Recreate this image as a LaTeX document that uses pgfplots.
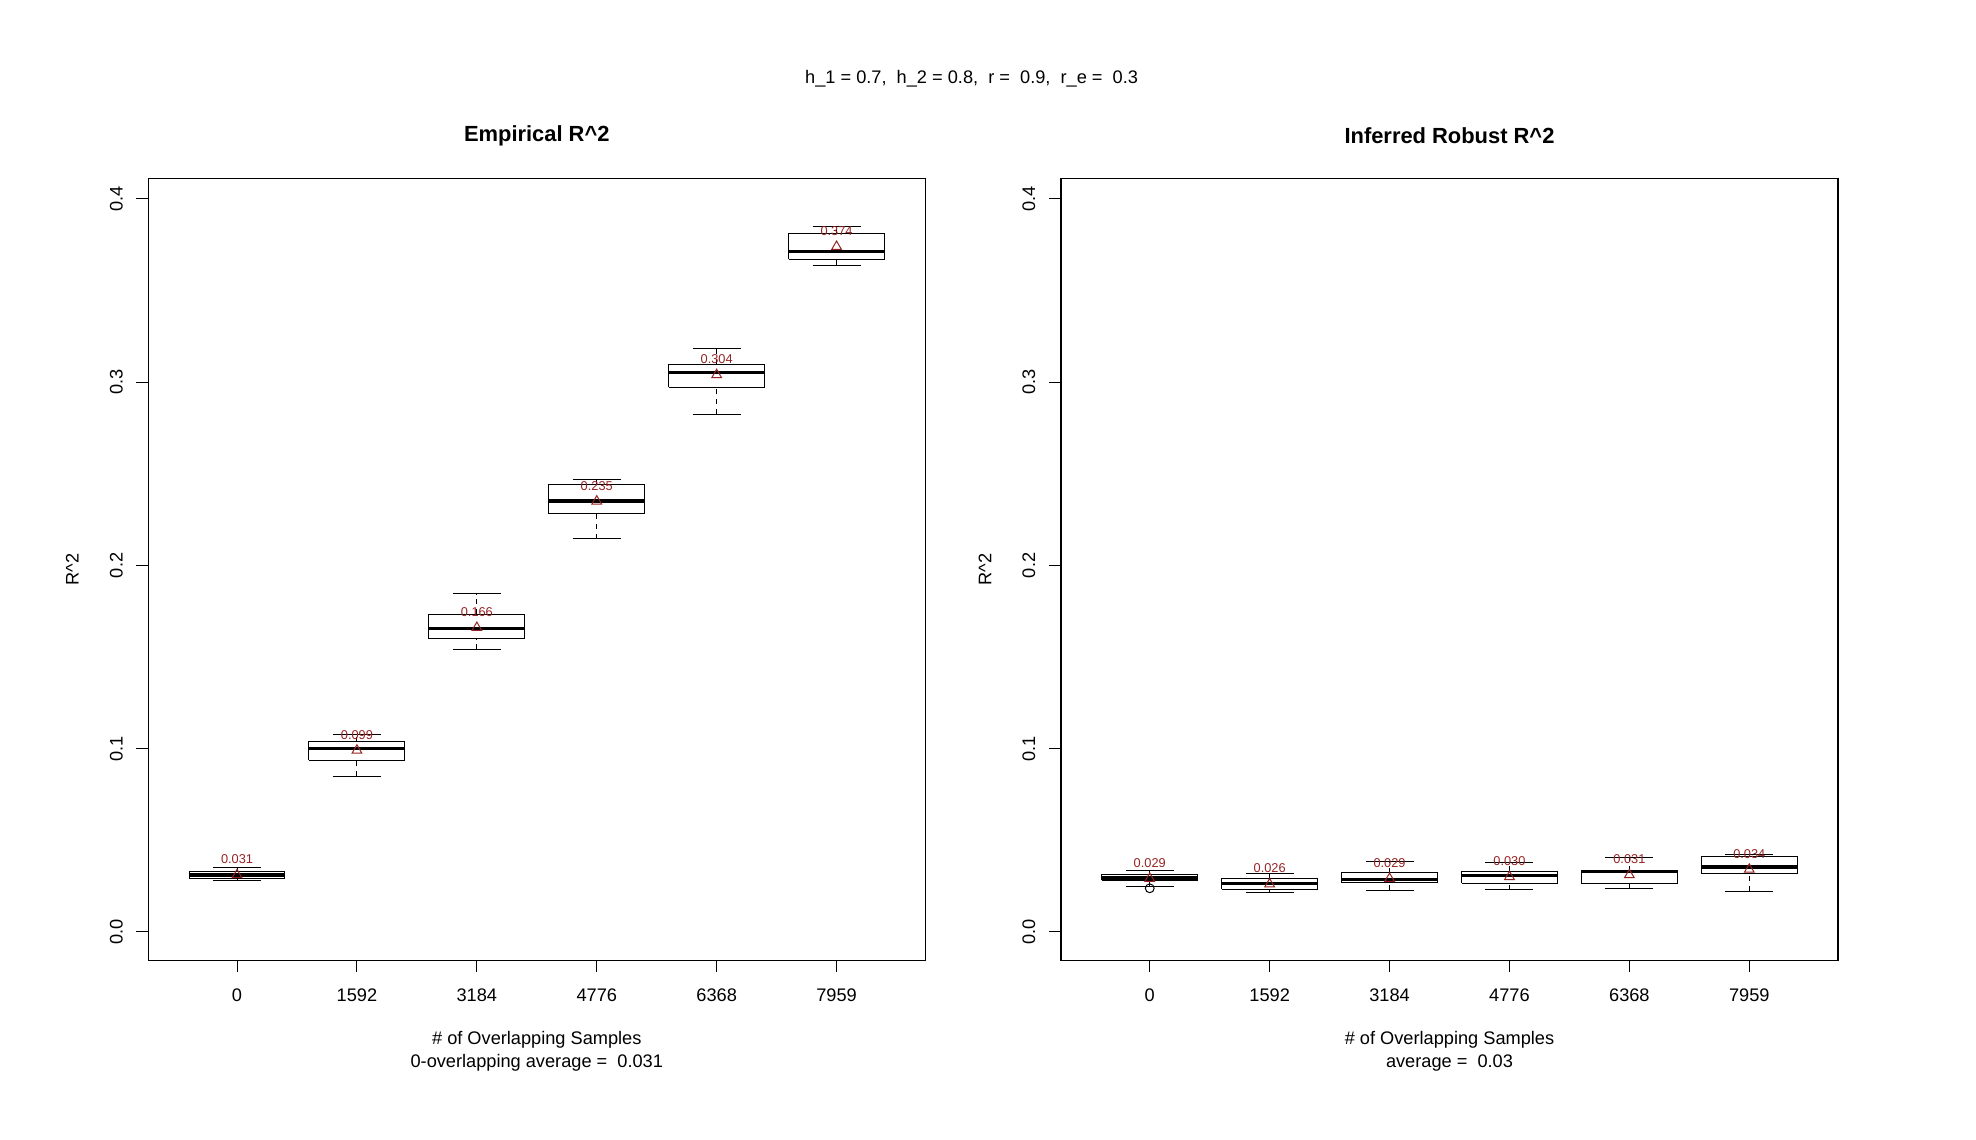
\documentclass[border=0pt]{standalone}
\usepackage{pgfplots}
\pgfplotsset{compat=1.18}
\usepackage{pgfplotstable}
\usepackage{fontspec}
\setmainfont{Liberation Sans}
\definecolor{meanred}{RGB}{150,35,35}

\pgfplotstableread{
pos mean label
1 0.031 0.031
2 0.099 0.099
3 0.166 0.166
4 0.235 0.235
5 0.304 0.304
6 0.374 0.374
}\meansL
\pgfplotstableread{
pos mean label
1 0.029 0.029
2 0.026 0.026
3 0.029 0.029
4 0.030 0.030
5 0.031 0.031
6 0.034 0.034
}\meansR

% box: position, lower whisker, lower quartile, median, upper quartile, upper whisker
\newcommand{\bx}[6]{%
  \pgfmathsetmacro\xl{#1-0.4}\pgfmathsetmacro\xr{#1+0.4}%
  \pgfmathsetmacro\sl{#1-0.2}\pgfmathsetmacro\sr{#1+0.2}%
  \addplot[black, line width=0.5pt, dash pattern=on 2.5pt off 2.5pt] coordinates {(#1,#2) (#1,#3)};
  \addplot[black, line width=0.5pt, dash pattern=on 2.5pt off 2.5pt] coordinates {(#1,#5) (#1,#6)};
  \addplot[black, line width=0.5pt] coordinates {(\sl,#2) (\sr,#2)};
  \addplot[black, line width=0.5pt] coordinates {(\sl,#6) (\sr,#6)};
  \addplot[black, line width=0.5pt, line join=miter] coordinates {(\xl,#3) (\xr,#3) (\xr,#5) (\xl,#5) (\xl,#3)};
  \addplot[black, line width=1.75pt] coordinates {(\xl,#4) (\xr,#4)};
}

\pgfplotsset{
  rpanel/.style={
    scale only axis, width=388.5pt, height=391pt,
    anchor=south west,
    xmin=0.26, xmax=6.74, ymin=-0.0156, ymax=0.4113,
    axis line style={black, line width=0.6pt},
    tick pos=left, tick align=outside, major tick length=6pt,
    tick style={black, line width=0.5pt},
    xtick={1,2,3,4,5,6},
    xticklabels={0,1592,3184,4776,6368,7959},
    ytick={0,0.1,0.2,0.3,0.4},
    yticklabels={0.0,0.1,0.2,0.3,0.4},
    ticklabel style={font=\fontsize{9.1}{11}\selectfont, inner sep=0pt},
    xticklabel style={anchor=north, yshift=-7.8pt},
    yticklabel style={xshift=-6.6pt, rotate=90, anchor=south},
    title style={at={(axis description cs:0.5,1.0547)}, anchor=center, yshift=-6.3pt, font=\fontsize{10.95}{13}\selectfont\bfseries},
    ylabel style={at={(axis description cs:-0.0979,0.5)}, anchor=center, rotate=0, font=\fontsize{9.1}{11}\selectfont},
    xlabel style={at={(axis description cs:0.5,-0.1163)}, anchor=center, align=center, font=\fontsize{9.1}{11.4}\selectfont},
    clip=false,
  },
  meanplot/.style={only marks, mark=triangle, mark size=2.8pt, color=meanred,
    mark options={line width=0.5pt, solid},
    nodes near coords, point meta=explicit symbolic,
    every node near coord/.style={anchor=base, inner sep=0pt, yshift=5.6pt, font=\fontsize{6.4}{7}\selectfont, color=meanred}},
}

\begin{document}
\begin{tikzpicture}
\path[use as bounding box] (0,0) rectangle (988pt,570pt);
\node[font=\fontsize{9.1}{11}\selectfont] at (485.8pt,530.75pt) {h\_1 = 0.7,\ \ h\_2 = 0.8,\ \ r =\ \ 0.9,\ \ r\_e =\ \ 0.3};

\begin{axis}[rpanel, at={(74.15pt,89.85pt)},
  title={Empirical R\textasciicircum 2},
  ylabel={R\textasciicircum 2},
  xlabel={\# of Overlapping Samples\\0-overlapping average =\ \ 0.031}]
\bx{1}{0.0278}{0.0289}{0.0310}{0.0331}{0.0353}
\bx{2}{0.0848}{0.0937}{0.0999}{0.1036}{0.1079}
\bx{3}{0.1543}{0.1598}{0.1656}{0.1734}{0.1844}
\bx{4}{0.2144}{0.2281}{0.2352}{0.2439}{0.2466}
\bx{5}{0.2826}{0.2972}{0.3052}{0.3099}{0.3185}
\bx{6}{0.3637}{0.3672}{0.3713}{0.3809}{0.3850}
\addplot[meanplot] table[x=pos, y=mean, meta=label] {\meansL};
\end{axis}

\begin{axis}[rpanel, at={(530.5pt,89.85pt)},
  title={Inferred Robust R\textasciicircum 2},
  ylabel={R\textasciicircum 2},
  xlabel={\# of Overlapping Samples\\average =\ \ 0.03}]
\bx{1}{0.0249}{0.0281}{0.0293}{0.0311}{0.0333}
\addplot[only marks, black, mark=o, mark size=2.2pt, mark options={line width=0.5pt}] coordinates {(1,0.0237)};
\bx{2}{0.0215}{0.0231}{0.0264}{0.0288}{0.0319}
\bx{3}{0.0226}{0.0268}{0.0286}{0.0322}{0.0386}
\bx{4}{0.0229}{0.0264}{0.0306}{0.0331}{0.0379}
\bx{5}{0.0235}{0.0262}{0.0328}{0.0333}{0.0404}
\bx{6}{0.0222}{0.0317}{0.0352}{0.0412}{0.0423}
\addplot[meanplot] table[x=pos, y=mean, meta=label] {\meansR};
\end{axis}
\end{tikzpicture}
\end{document}
